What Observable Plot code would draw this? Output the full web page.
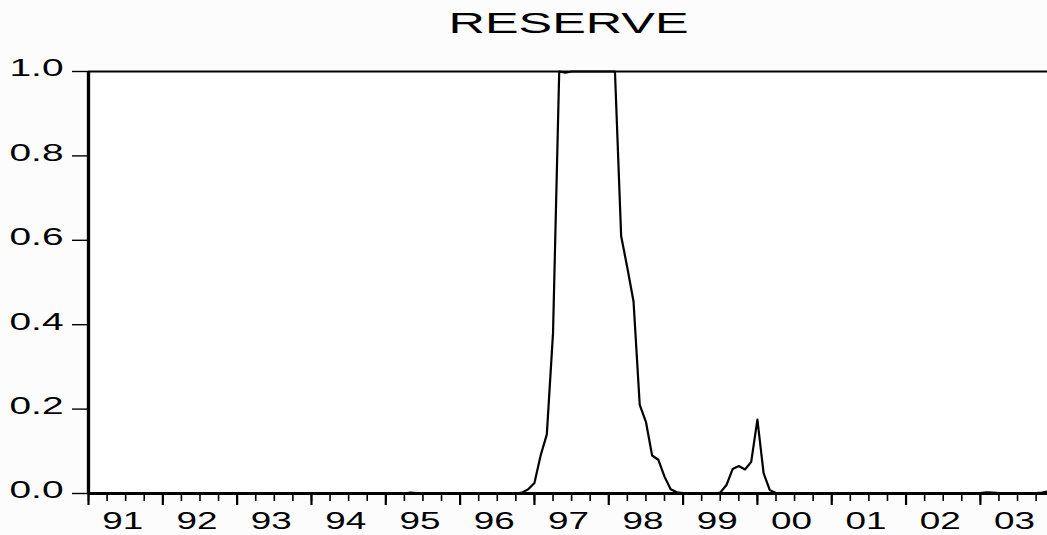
<!DOCTYPE html>
<html><head><meta charset="utf-8">
<script src="https://cdn.jsdelivr.net/npm/d3@7"></script>
<script src="https://cdn.jsdelivr.net/npm/@observablehq/plot@0.6"></script>
<style>
html,body{margin:0;padding:0;background:#fcfcfc;}
#chart svg{display:block;}
</style></head><body><div id="chart"></div>
<script>
const title = "RESERVE";
const startYear = 1991;
const yearTicks = [1991, 1992, 1993, 1994, 1995, 1996, 1997, 1998, 1999, 2000, 2001, 2002, 2003];
const yearLabels = ["91", "92", "93", "94", "95", "96", "97", "98", "99", "00", "01", "02", "03"];
const yTicks = [0, 0.2, 0.4, 0.6, 0.8, 1.0];
// monthly values, Jan 1991 .. Dec 2003 (one row per year)
const reserve = [
  0, 0, 0, 0, 0, 0, 0, 0, 0, 0, 0, 0,
  0, 0, 0, 0, 0, 0, 0.001, 0, 0, 0, 0, 0,
  0, 0, 0, 0, 0, 0, 0, 0, 0, 0, 0, 0,
  0, 0, 0, 0, 0, 0, 0, 0, 0, 0, 0, 0,
  0, 0, 0, 0, 0.002, 0.001, 0, 0, 0, 0, 0, 0,
  0, 0, 0, 0, 0, 0, 0, 0, 0, 0, 0.002, 0.01,
  0.025, 0.09, 0.14, 0.38, 1.0, 0.997, 1.0, 1.0, 1.0, 1.0, 1.0, 1.0,
  1.0, 1.0, 0.61, 0.535, 0.455, 0.21, 0.17, 0.09, 0.08, 0.04, 0.01, 0.003,
  0.001, 0, 0.001, 0.001, 0, 0, 0.002, 0.02, 0.058, 0.065, 0.057, 0.075,
  0.175, 0.048, 0.008, 0.001, 0, 0, 0.001, 0, 0, 0, 0, 0,
  0, 0, 0, 0, 0, 0, 0, 0, 0, 0, 0, 0,
  0, 0, 0, 0, 0, 0, 0, 0, 0, 0, 0, 0,
  0.001, 0.003, 0.002, 0.001, 0.001, 0.001, 0.001, 0.001, 0.001, 0.001, 0.002, 0.005
];

const data = reserve.map((v, i) => ({t: startYear + i / 12, v}));
const quarterTicks = d3.range(0, yearTicks.length * 4).map(i => startYear + i / 4);
const fmt = d3.format(".1f");

const chart = Plot.plot({
  width: 1047,
  height: 535,
  marginTop: 71,
  marginBottom: 42,
  marginLeft: 88,
  marginRight: -1,
  style: {fontFamily: "'Liberation Sans', Arial, Helvetica, sans-serif", fontSize: "23px", color: "#000", background: "#fcfcfc", overflow: "visible"},
  x: {domain: [startYear, 2003 + 11 / 12]},
  y: {domain: [0, 1]},
  marks: [
    Plot.frame({fill: "#ffffff", stroke: null}),
    Plot.axisY({ticks: yTicks, tickSize: 16, tickFormat: () => "", strokeWidth: 1.4, label: null}),
    Plot.text(yTicks, {y: d => d, text: d => fmt(d), frameAnchor: "left", textAnchor: "end", lineAnchor: "middle", dx: -25, dy: -2.5, fontSize: 23}),
    Plot.axisX({ticks: quarterTicks, tickSize: 8, tickFormat: () => "", strokeWidth: 1.6, label: null}),
    Plot.axisX({ticks: yearTicks, tickSize: 12, tickFormat: () => "", strokeWidth: 2.2, label: null}),
    Plot.text(yearTicks, {x: d => d + 0.46, text: (d, i) => yearLabels[i], frameAnchor: "bottom", lineAnchor: "middle", dy: 28, fontSize: 23.5}),
    Plot.ruleY([1], {strokeWidth: 2.2}),
    Plot.ruleY([0], {strokeWidth: 3}),
    Plot.ruleX([startYear], {strokeWidth: 3.3}),
    Plot.line(data, {x: "t", y: "v", strokeWidth: 2.2, stroke: "#000"}),
    Plot.text([title], {frameAnchor: "top", lineAnchor: "middle", dy: -48, fontSize: 29})
  ]
});
document.getElementById("chart").appendChild(chart);

// widen glyphs horizontally, as in the reference rendering
d3.select(chart).selectAll("text").each(function() {
  const s = this.textContent;
  let len = null;
  if (s === title) len = 240;
  else if (/^\d\.\d$/.test(s)) len = 54;
  else if (/^\d\d$/.test(s)) len = 41;
  if (len) { this.setAttribute("textLength", len); this.setAttribute("lengthAdjust", "spacingAndGlyphs"); }
});
</script>
</body></html>
